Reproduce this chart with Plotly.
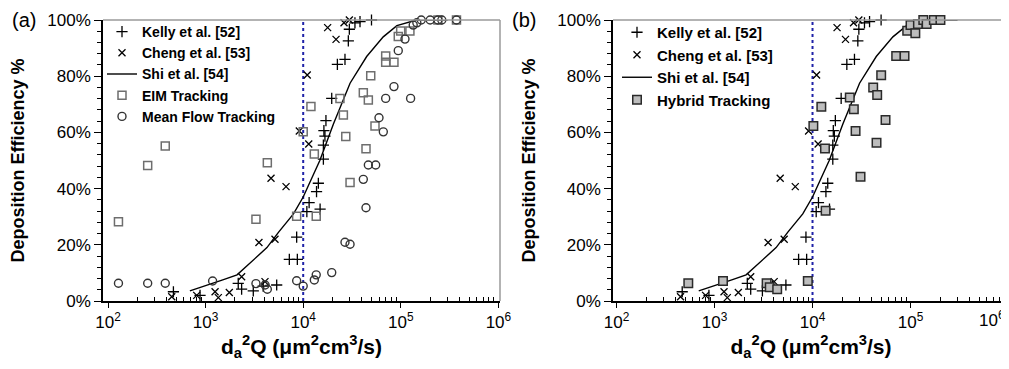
import plotly.graph_objects as go

# ---------------- data ----------------
kelly_x = [468, 877, 2160, 2340, 3080, 3890, 5350, 7210, 8710, 8570, 10900, 11500, 14900,
           13700, 14300, 16100, 16100, 16700, 16300, 17100, 19600, 22400, 26800, 29000,
           29700, 33900, 38200, 50100]
kelly_y = [3.3, 2.0, 6.3, 4.2, 3.6, 5.3, 5.7, 14.8, 14.8, 22.7, 31.8, 35.0, 32.7,
           38.9, 41.9, 50.5, 55.5, 58.7, 60.6, 64.2, 72.1, 84.2, 86.0, 92.6,
           96.7, 99.0, 99.4, 100.0]

cheng_x = [450, 810, 1350, 1250, 1750, 2340, 3520, 5140, 4680, 6670, 4060, 9120, 11000,
           11400, 17800, 21700, 26200, 29700]
cheng_y = [1.5, 2.0, 1.2, 3.3, 3.0, 8.6, 20.8, 22.0, 43.7, 40.7, 6.9, 60.5, 80.4,
           55.9, 97.3, 93.1, 99.0, 100.0]

shi_x = [690, 1000, 1500, 2100, 2850, 4250, 5600, 7950, 10000, 14800, 20400, 30200,
         44700, 66100, 91200, 144500, 302000]
shi_y = [3.6, 5.4, 7.5, 9.3, 13.5, 19.0, 24.5, 31.0, 37.0, 50.0, 63.0, 77.5,
         87.0, 94.0, 98.0, 100.0, 100.0]

eim_x = [128, 255, 386, 3280, 4290, 8570, 10000, 12000, 13000, 13600, 23800, 25800, 27300,
         30200, 41300, 46500, 49200, 44000, 54400, 70000, 70000, 85100, 94200, 99700,
         124000, 240000, 372000]
eim_y = [28.2, 48.2, 55.2, 29.1, 49.2, 30.2, 60.2, 69.2, 52.3, 30.2, 72.1, 66.2, 58.5,
         42.2, 74.1, 71.5, 80.2, 54.2, 62.3, 87.2, 85.0, 85.0, 94.1, 96.1,
         96.1, 100.0, 100.0]

mean_x = [128, 255, 386, 1180, 3280, 4290, 4070, 8570, 10000, 13000, 13600, 19600, 26800,
          30200, 41300, 44000, 46500, 55300, 59800, 66200, 70000, 85100, 126000, 94200,
          110400, 134000, 146000, 162000, 200000, 240000, 263000, 372000]
mean_y = [6.3, 6.3, 6.3, 7.1, 6.2, 4.2, 5.7, 7.2, 5.3, 7.5, 9.3, 10.1, 20.9,
          20.2, 43.3, 33.2, 48.4, 48.4, 65.2, 60.2, 72.1, 76.3, 72.1, 89.1,
          93.2, 98.2, 99.0, 100.0, 100.0, 100.0, 100.0, 100.0]

hybrid_x = [540, 1220, 3400, 3660, 4360, 8950, 10200, 12300, 13400, 13600, 24000, 26400,
            27500, 30900, 41600, 45700, 50200, 45000, 55600, 71400, 86900, 92500, 100000,
            112000, 119000, 135000, 146000, 173000, 202000]
hybrid_y = [6.3, 7.1, 6.3, 4.9, 4.2, 7.1, 62.3, 69.1, 54.3, 32.1, 72.4, 68.2,
            60.5, 44.2, 76.0, 73.3, 80.3, 56.3, 64.4, 87.2, 87.2, 96.2, 98.2,
            95.3, 98.6, 100.0, 98.6, 100.0, 100.0]

threshold_x = [10000, 10000]
threshold_y = [0, 100]

x_tick_vals = [100, 1000, 10000, 100000, 1000000]
x_tick_text = ["10<sup>2</sup>", "10<sup>3</sup>", "10<sup>4</sup>", "10<sup>5</sup>", "10<sup>6</sup>"]
x_minor_vals = [m * 10 ** e for e in range(2, 6) for m in range(2, 10)]
y_tick_vals = [0, 20, 40, 60, 80, 100]
y_tick_text = ["0%", "20%", "40%", "60%", "80%", "100%"]

# ---------------- figure ----------------
# The page body keeps an 8px margin, so the figure is 8px smaller than the window
W, H = 1001, 361
OFF = 8
FONT = "Liberation Sans, Arial, sans-serif"
fig = go.Figure()


def px_x(p):
    return (p - OFF) / W


def px_y(p):
    return 1 - (p - OFF) / H


def add_common(xa, ya, leg):
    fig.add_trace(go.Scatter(x=kelly_x, y=kelly_y, mode="markers", name="Kelly et al. [52]",
                             xaxis=xa, yaxis=ya, legend=leg, cliponaxis=False,
                             marker=dict(symbol="cross-thin", size=8,
                                         line=dict(color="black", width=1.3))))
    fig.add_trace(go.Scatter(x=cheng_x, y=cheng_y, mode="markers", name="Cheng et al. [53]",
                             xaxis=xa, yaxis=ya, legend=leg, cliponaxis=False,
                             marker=dict(symbol="x-thin", size=7,
                                         line=dict(color="black", width=1.3))))
    fig.add_trace(go.Scatter(x=shi_x, y=shi_y, mode="lines", name="Shi et al. [54]",
                             xaxis=xa, yaxis=ya, legend=leg, cliponaxis=False,
                             line=dict(color="black", width=1.4)))


# left panel
fig.add_trace(go.Scatter(x=threshold_x, y=threshold_y, mode="lines", showlegend=False,
                         xaxis="x", yaxis="y", hoverinfo="skip",
                         line=dict(color="#1f22a8", width=2, dash="dot")))
add_common("x", "y", "legend")
fig.add_trace(go.Scatter(x=eim_x, y=eim_y, mode="markers", name="EIM Tracking",
                         xaxis="x", yaxis="y", legend="legend", cliponaxis=False,
                         marker=dict(symbol="square-open", size=8,
                                     line=dict(color="#6e6e6e", width=1.5), color="#6e6e6e")))
fig.add_trace(go.Scatter(x=mean_x, y=mean_y, mode="markers", name="Mean Flow Tracking",
                         xaxis="x", yaxis="y", legend="legend", cliponaxis=False,
                         marker=dict(symbol="circle-open", size=8,
                                     line=dict(color="#333333", width=1.4), color="#333333")))

# right panel
fig.add_trace(go.Scatter(x=threshold_x, y=threshold_y, mode="lines", showlegend=False,
                         xaxis="x2", yaxis="y2", hoverinfo="skip",
                         line=dict(color="#1f22a8", width=2, dash="dot")))
add_common("x2", "y2", "legend2")
fig.add_trace(go.Scatter(x=hybrid_x, y=hybrid_y, mode="markers", name="Hybrid Tracking",
                         xaxis="x2", yaxis="y2", legend="legend2", cliponaxis=False,
                         marker=dict(symbol="square", size=8.5, color="#bdbdbd",
                                     line=dict(color="#2a2a2a", width=1.5))))

x_title = "d<sub>a</sub><sup>2</sup>Q (μm<sup>2</sup>cm<sup>3</sup>/s)"
y_title = "Deposition Efficiency %"


def xaxis(domain, rng, anchor, ticktext):
    return dict(type="log", domain=domain, range=rng, anchor=anchor, automargin=False,
                showline=True, linecolor="black",
                linewidth=1.5, ticks="outside", ticklen=5, tickwidth=1.2, tickcolor="black",
                tickmode="array", tickvals=x_tick_vals, ticktext=ticktext,
                tickfont=dict(size=17, color="black", family=FONT),
                minor=dict(tickmode="array", tickvals=x_minor_vals, ticks="inside",
                           ticklen=4, tickwidth=1, tickcolor="black", showgrid=False),
                showgrid=False, zeroline=False,
                title=dict(text=x_title, standoff=2,
                           font=dict(size=21, color="black", family=FONT, weight="bold")))


def yaxis(anchor, standoff):
    return dict(domain=[px_y(301), px_y(20)], range=[0, 100], anchor=anchor,
                automargin=False,
                showline=True, linecolor="black", linewidth=1.5, ticks="outside",
                ticklen=7, tickwidth=1.2, tickcolor="black", tickmode="array",
                tickvals=y_tick_vals, ticktext=y_tick_text,
                tickfont=dict(size=17, color="black", family=FONT),
                minor=dict(dtick=4, ticks="outside", ticklen=4, tickwidth=1,
                           tickcolor="black", showgrid=False),
                showgrid=False, zeroline=False,
                title=dict(text=y_title, standoff=standoff,
                           font=dict(size=18, color="black", family=FONT, weight="bold")))


legend_common = dict(xanchor="left", yanchor="top", bgcolor="rgba(0,0,0,0)",
                     borderwidth=0, itemwidth=30, tracegroupgap=0)

# the last label of the right axis sits at the page edge: draw it pulled inside
right_ticktext = x_tick_text[:-1] + [""]

fig.update_layout(
    width=W, height=H,
    margin=dict(l=0, r=0, t=0, b=0, pad=0, autoexpand=False),
    paper_bgcolor="white", plot_bgcolor="white",
    font=dict(family=FONT, color="black"),
    xaxis=xaxis([px_x(103), px_x(500)], [1.9488, 6.0164], "y", x_tick_text),
    yaxis=yaxis("x", 20),
    xaxis2=xaxis([px_x(613), 1.0], [1.964, 6.005], "y2", right_ticktext),
    yaxis2=yaxis("x2", 17),
    legend=dict(x=px_x(102), y=px_y(16), font=dict(size=14, weight="bold", family=FONT, color="black"),
                **legend_common),
    legend2=dict(x=px_x(617), y=px_y(16), font=dict(size=15, weight="bold", family=FONT, color="black"),
                 **legend_common),
    showlegend=True,
    annotations=[
        dict(text="(a)", xref="paper", yref="paper", x=px_x(10), y=px_y(20),
             xanchor="left", yanchor="middle", showarrow=False,
             font=dict(size=20, family=FONT, color="black")),
        dict(text="(b)", xref="paper", yref="paper", x=px_x(510), y=px_y(20),
             xanchor="left", yanchor="middle", showarrow=False,
             font=dict(size=20, family=FONT, color="black")),
        dict(text=x_tick_text[-1], xref="paper", yref="paper", x=px_x(1007), y=px_y(306),
             xanchor="right", yanchor="top", showarrow=False,
             font=dict(size=17, family=FONT, color="black")),
    ],
    shapes=[
        dict(type="line", xref="x domain", yref="y domain", x0=0, x1=1, y0=1, y1=1,
             line=dict(color="#9a9a9a", width=1.5)),
        dict(type="line", xref="x domain", yref="y domain", x0=1, x1=1, y0=0, y1=1,
             line=dict(color="#9a9a9a", width=1.5)),
        dict(type="line", xref="x2 domain", yref="y2 domain", x0=0, x1=1, y0=1, y1=1,
             line=dict(color="#9a9a9a", width=1.5)),
    ],
)

fig.write_html("out.html")
